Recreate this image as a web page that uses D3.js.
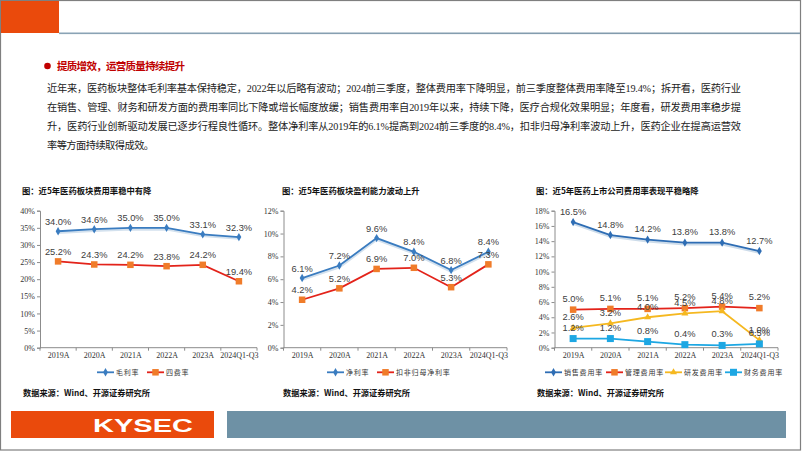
<!DOCTYPE html>
<html><head><meta charset="utf-8">
<script src="https://cdn.jsdelivr.net/npm/d3@7"></script>
<style>
html,body{margin:0;padding:0;background:#fff;}
svg{display:block;}
</style></head>
<body>
<svg id="c" width="802" height="451"></svg>
<script>
// ---------- data ----------
const categories = ["2019A","2020A","2021A","2022A","2023A","2024Q1-Q3"];
const grossMargin = [34.0,34.6,35.0,35.0,33.1,32.3];          // 毛利率
const fourFeeRate = [25.2,24.3,24.2,23.8,24.2,19.4];          // 四费率
const netMargin = [6.1,7.2,9.6,8.4,6.8,8.4];                  // 净利率
const deductedNetMargin = [4.2,5.2,6.9,7.0,5.3,7.3];          // 扣非归母净利率
const salesRate = [16.5,14.8,14.2,13.8,13.8,12.7];            // 销售费用率
const adminRate = [5.0,5.1,5.1,5.2,5.4,5.2];                  // 管理费用率
const rdRate = [2.6,3.2,4.0,4.5,4.8,1.0];                     // 研发费用率
const financeRate = [1.2,1.2,0.8,0.4,0.3,0.5];                // 财务费用率
const yTicks1 = [0,5,10,15,20,25,30,35,40];
const yTicks2 = [0,2,4,6,8,10,12];
const yTicks3 = [0,2,4,6,8,10,12,14,16,18];

const heading = "提质增效，运营质量持续提升";
const paragraph = [
 "近年来，医药板块整体毛利率基本保持稳定，2022年以后略有波动；2024前三季度，整体费用率下降明显，前三季度整体费用率降至19.4%；拆开看，医药行业",
 "在销售、管理、财务和研发方面的费用率同比下降或增长幅度放缓；销售费用率自2019年以来，持续下降，医疗合规化效果明显；年度看，研发费用率稳步提",
 "升，医药行业创新驱动发展已逐步行程良性循环。整体净利率从2019年的6.1%提高到2024前三季度的8.4%，扣非归母净利率波动上升，医药企业在提高运营效",
 "率等方面持续取得成效。"
];
const titles = ["图：近5年医药板块费用率稳中有降","图：近5年医药板块盈利能力波动上升","图：近5年医药上市公司费用率表现平稳略降"];
const sourceText = "数据来源：Wind、开源证券研究所";

// ---------- page ----------
const svg = d3.select("#c");
const serif = "'Liberation Serif','Noto Sans CJK SC',serif";
const cjk = "'Noto Sans CJK SC',sans-serif";
const sans = "'Liberation Sans',Arial,sans-serif";

svg.append("rect").attr("x",0.5).attr("y",0.5).attr("width",800).attr("height",449.5)
  .attr("fill","#fff").attr("stroke","#7f7f7f").attr("stroke-width",1.2);
svg.append("rect").attr("x",1).attr("y",1).attr("width",58).attr("height",32).attr("fill","#ea4a0c");
const grad = svg.append("defs").append("linearGradient").attr("id","tl");
grad.append("stop").attr("offset","0%").attr("stop-color","#8aa3b5");
grad.append("stop").attr("offset","100%").attr("stop-color","#7f98aa");
svg.append("rect").attr("x",59).attr("y",32.5).attr("width",741).attr("height",1.6).attr("fill","url(#tl)");

svg.append("circle").attr("cx",47.5).attr("cy",66).attr("r",3.3).attr("fill","#c00000");
svg.append("text").attr("x",57).attr("y",70).attr("font-family",cjk).attr("font-weight","bold")
  .attr("font-size",10.5).attr("fill","#c00000").attr("textLength",128).attr("lengthAdjust","spacing").text(heading);

const lineYs = [92,111,130,149];
paragraph.forEach((t,i)=>{
  const tx = svg.append("text").attr("x",47).attr("y",lineYs[i]).attr("font-family",serif)
    .attr("font-size",10.2).attr("fill","#222").text(t);
  if(i<3) tx.attr("textLength",694).attr("lengthAdjust","spacing");
  else tx.attr("textLength",107).attr("lengthAdjust","spacing");
});

// footer
svg.append("rect").attr("x",11).attr("y",411).attr("width",203).attr("height",27).attr("fill","#ea4a0c");
svg.append("text").attr("x",143).attr("y",431.5).attr("text-anchor","middle").attr("font-family",sans)
  .attr("font-weight","bold").attr("font-size",17.5).attr("fill","#fff").attr("textLength",100)
  .attr("lengthAdjust","spacingAndGlyphs").text("KYSEC");
svg.append("rect").attr("x",227).attr("y",411).attr("width",559).attr("height",27).attr("fill","#6e91a5");

// ---------- charts ----------
function marker(g, type, x, y, color, size){
  if(type==="square"){
    g.append("rect").attr("x",x-size/2).attr("y",y-size/2).attr("width",size).attr("height",size).attr("fill",color);
  } else if(type==="diamond"){
    g.append("path").attr("d",d3.symbol(d3.symbolDiamond, size*size).call()).attr("transform",`translate(${x},${y})`).attr("fill",color);
  } else if(type==="triangle"){
    g.append("path").attr("d",d3.symbol(d3.symbolTriangle, size*size*0.6).call()).attr("transform",`translate(${x},${y})`).attr("fill",color);
  }
}

function drawChart(cfg){
  const g = svg.append("g");
  const x = d3.scalePoint().domain(categories).range([cfg.x0,cfg.x1]).padding(0.5);
  const y = d3.scaleLinear().domain([0,cfg.max]).range([347.7,210.7]);

  g.append("text").attr("x",cfg.titleX).attr("y",194).attr("font-family",cjk).attr("font-weight","bold")
    .attr("font-size",8.3).attr("fill","#111").text(cfg.title);

  // y axis
  const ya = g.append("g").attr("transform",`translate(${cfg.x0},0)`)
    .call(d3.axisLeft(y).tickValues(cfg.ticks).tickSize(3).tickFormat(d=>d+"%"));
  ya.select(".domain").attr("stroke","#8c8c8c");
  ya.selectAll(".tick line").attr("stroke","#8c8c8c");
  ya.selectAll(".tick text").attr("font-family",serif).attr("font-size",8).attr("fill","#333").attr("x",-5);

  // x axis
  const xa = g.append("g").attr("transform",`translate(0,${y(0)})`)
    .call(d3.axisBottom(x).tickSize(0).tickSizeOuter(0));
  xa.select(".domain").attr("stroke","#8c8c8c").attr("d",`M${cfg.x0},0H${cfg.x1}`);
  xa.selectAll(".tick text").attr("font-family",serif).attr("font-size",8).attr("fill","#333").attr("y",5);
  const step = x.step();
  d3.range(7).forEach(i=>{
    const xx = cfg.x0 + i*step;
    g.append("line").attr("x1",xx).attr("x2",xx).attr("y1",y(0)).attr("y2",y(0)+3).attr("stroke","#8c8c8c");
  });

  const line = d3.line().x((d,i)=>x(categories[i])).y(d=>y(d));
  cfg.series.forEach(s=>{
    if(s.glow){
      g.append("path").datum(s.values).attr("d",line).attr("fill","none")
        .attr("stroke",s.glow).attr("stroke-width",3).attr("transform","translate(0,1.3)");
    }
    g.append("path").datum(s.values).attr("d",line).attr("fill","none")
      .attr("stroke",s.color).attr("stroke-width",s.width||1.8);
    s.values.forEach((v,i)=>marker(g,s.marker,x(categories[i]),y(v),s.markerColor,s.markerSize));
  });
  cfg.series.forEach(s=>{
    s.values.forEach((v,i)=>{
      g.append("text").attr("x",x(categories[i])).attr("y",y(v)-(s.labelDy||10)+3.5).attr("text-anchor","middle")
        .attr("font-family",sans).attr("font-size",9.3).attr("fill","#404040").text(v.toFixed(1)+"%");
    });
  });

  // legend
  cfg.series.forEach((s,k)=>{
    const lx = cfg.legendX[k], ly = 372.3;
    g.append("line").attr("x1",lx).attr("x2",lx+17).attr("y1",ly).attr("y2",ly).attr("stroke",s.color).attr("stroke-width",1.8);
    marker(g,s.marker,lx+8.5,ly,s.markerColor,s.markerSize);
    g.append("text").attr("x",lx+19).attr("y",ly+2.6).attr("font-family",cjk).attr("font-size",7)
      .attr("letter-spacing",0.8).attr("fill","#333").text(s.name);
  });

  g.append("text").attr("x",cfg.titleX+1).attr("y",396).attr("font-family",cjk).attr("font-weight","bold")
    .attr("font-size",8.2).attr("fill","#111").text(sourceText);
}

drawChart({
  x0:40, x1:257, max:40, ticks:yTicks1, title:titles[0], titleX:22,
  legendX:[97,147],
  series:[
    {name:"毛利率", values:grossMargin, color:"#3a7cc0", marker:"diamond", markerColor:"#3a7cc0", markerSize:4.5, glow:"#d3e1ee"},
    {name:"四费率", values:fourFeeRate, color:"#e3231a", marker:"square", markerColor:"#f07c2a", markerSize:6.5}
  ]
});
drawChart({
  x0:283.5, x1:507, max:12, ticks:yTicks2, title:titles[1], titleX:282,
  legendX:[327,377],
  series:[
    {name:"净利率", values:netMargin, color:"#3a7cc0", marker:"diamond", markerColor:"#3a7cc0", markerSize:4.5, glow:"#d3e1ee"},
    {name:"扣非归母净利率", values:deductedNetMargin, color:"#e3231a", marker:"square", markerColor:"#f07c2a", markerSize:6.5}
  ]
});
drawChart({
  x0:554.5, x1:778, max:18, ticks:yTicks3, title:titles[2], titleX:536,
  legendX:[545,606,665,725],
  series:[
    {name:"销售费用率", values:salesRate, color:"#2e6db4", marker:"diamond", markerColor:"#2e6db4", markerSize:4.5, glow:"#cddcea", labelDy:11},
    {name:"管理费用率", values:adminRate, color:"#e3231a", marker:"square", markerColor:"#f07c2a", markerSize:6.5, labelDy:11.5},
    {name:"研发费用率", values:rdRate, color:"#f5b820", marker:"triangle", markerColor:"#f5b820", markerSize:6, labelDy:11},
    {name:"财务费用率", values:financeRate, color:"#1da7e3", marker:"square", markerColor:"#1da7e3", markerSize:7, labelDy:11.5}
  ]
});
</script>
</body></html>
